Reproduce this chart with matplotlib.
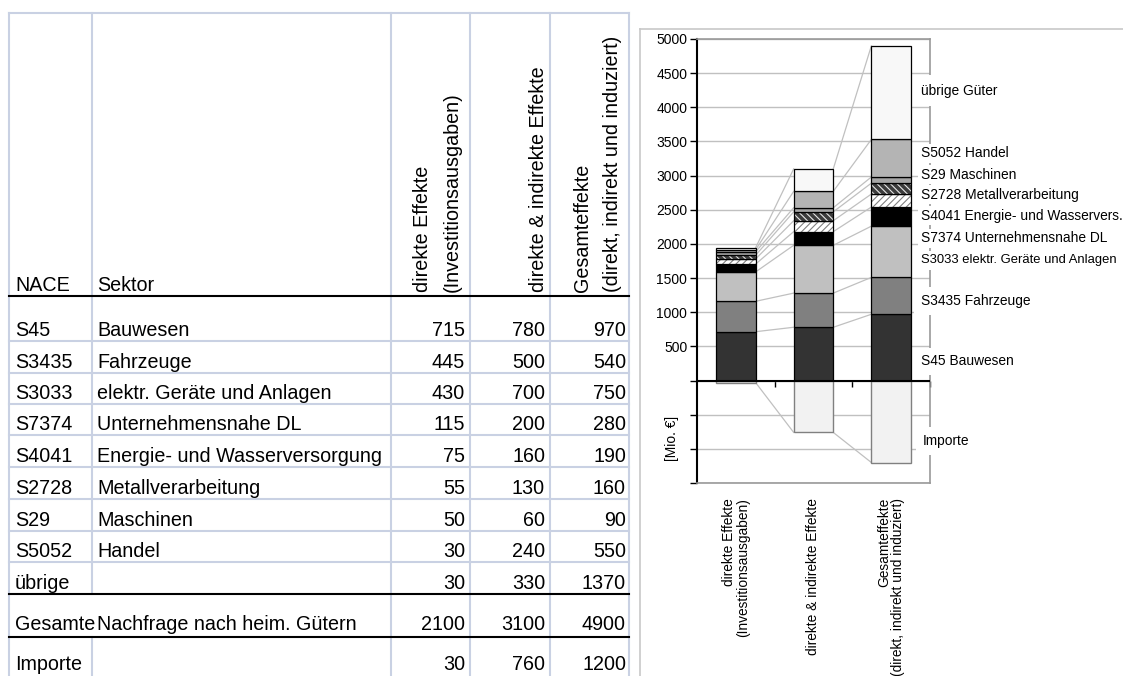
import numpy as np
import matplotlib
matplotlib.use("Agg")
import matplotlib.pyplot as plt
from matplotlib import font_manager
from matplotlib.ticker import FuncFormatter, MultipleLocator

# ---- data ----
nace = ["S45", "S3435", "S3033", "S7374", "S4041", "S2728", "S29", "S5052", "übrige"]
sektor = ["Bauwesen", "Fahrzeuge", "elektr. Geräte und Anlagen", "Unternehmensnahe DL",
          "Energie- und Wasserversorgung", "Metallverarbeitung", "Maschinen", "Handel", ""]
direkt = [715, 445, 430, 115, 75, 55, 50, 30, 30]
indirekt = [780, 500, 700, 200, 160, 130, 60, 240, 330]
gesamt = [970, 540, 750, 280, 190, 160, 90, 550, 1370]
summe = [2100, 3100, 4900]
importe = [30, 760, 1200]

kategorien = ["direkte Effekte\n(Investitionsausgaben)",
              "direkte & indirekte Effekte",
              "Gesamteffekte\n(direkt, indirekt und induziert)"]
bar_labels = ["S45 Bauwesen", "S3435 Fahrzeuge", "S3033 elektr. Geräte und Anlagen",
              "S7374 Unternehmensnahe DL", "S4041 Energie- und Wasservers.",
              "S2728 Metallverarbeitung", "S29 Maschinen", "S5052 Handel", "übrige Güter"]

# ---- styles / layout ----
colors = ["#333333", "#808080", "#c0c0c0", "#000000", "#ffffff", "#3c3c3c", "#a6a6a6", "#b4b4b4", "#f8f8f8"]
hatches = [None, None, None, None, "/////", "\\\\\\\\\\", None, None, None]
hatch_cols = [None, None, None, None, "#808080", "#e6e6e6", None, None, None]
label_y = [280, 1160, 1760, 2080, 2415, 2720, 3015, 3325, 4245]
label_pad = [0.5, 0.5, 0.25, 0.2, 0.2, 0.2, 0.2, 0.2, 0.6]
label_scale = [1, 1, 0.95, 1, 1, 1, 1, 1, 1]

names = {f.name for f in font_manager.fontManager.ttflist}
if "Liberation Sans Narrow" in names:
    FONT = ["Liberation Sans Narrow", "DejaVu Sans"]
    TS, LS, TK = 17.3, 11.8, 12.0
else:
    FONT = ["Liberation Sans", "DejaVu Sans"]
    TS, LS, TK = 14.2, 9.9, 10.0
plt.rcParams["font.family"] = FONT
plt.rcParams["hatch.linewidth"] = 0.8

W, H = 1123, 676
fig = plt.figure(figsize=(W / 100, H / 100), dpi=100)
bg = fig.add_axes([0, 0, 1, 1])
bg.set_xlim(0, W)
bg.set_ylim(H, 0)
bg.axis("off")

# ---- table ----
grid_c = "#c9d1e3"
cols = [9, 92, 391, 470, 550, 629]
row_bottom = [341, 373, 404, 435, 467, 499, 531, 562, 594]
for x in cols:
    if x == 92:
        bg.plot([x, x], [13, 594], color=grid_c, lw=1.5)
        bg.plot([x, x], [637, H], color=grid_c, lw=1.5)
    else:
        bg.plot([x, x], [13, H], color=grid_c, lw=1.5)
bg.plot([9, 629], [13, 13], color=grid_c, lw=1.5)
for y in row_bottom[:-1]:
    bg.plot([9, 629], [y, y], color=grid_c, lw=1.5)
for y in [296, 594, 637]:
    bg.plot([9, 629], [y, y], color="black", lw=1.5)

bg.text(15, 291, "NACE", fontsize=TS, va="baseline")
bg.text(97, 291, "Sektor", fontsize=TS, va="baseline")
hdr = [(428, "direkte Effekte"), (458, "(Investitionsausgaben)"),
       (544, "direkte & indirekte Effekte"),
       (588, "Gesamteffekte"), (618, "(direkt, indirekt und induziert)")]
for x, t in hdr:
    bg.text(x, 292, t, fontsize=TS, rotation=90, rotation_mode="anchor",
            ha="left", va="baseline")

num_x = [465, 545, 626]
for i in range(len(nace)):
    yb = row_bottom[i] - 5
    bg.text(15, yb, nace[i], fontsize=TS, va="baseline")
    bg.text(97, yb, sektor[i], fontsize=TS, va="baseline")
    for xr, vals in zip(num_x, [direkt, indirekt, gesamt]):
        bg.text(xr, yb, str(vals[i]), fontsize=TS, va="baseline", ha="right")

bg.text(15, 630, "Gesamte", fontsize=TS, va="baseline")
bg.text(97, 630, "Nachfrage nach heim. Gütern", fontsize=TS, va="baseline")
bg.text(15, 670, "Importe", fontsize=TS, va="baseline")
for xr, s, m in zip(num_x, summe, importe):
    bg.text(xr, 630, str(s), fontsize=TS, va="baseline", ha="right")
    bg.text(xr, 670, str(m), fontsize=TS, va="baseline", ha="right")

# chart frame
bg.plot([640, W], [28.5, 28.5], color="#c8c8c8", lw=1.2)
bg.plot([640, 640], [28.5, H], color="#c8c8c8", lw=1.2)

# ---- chart ----
ax = fig.add_axes([697 / W, 1 - 483 / H, (930 - 697) / W, (483 - 39) / H])
ax.set_facecolor("none")
x = np.arange(3)
bw = 0.51
data = np.array([direkt, indirekt, gesamt])  # bars x sectors
cum = np.cumsum(data, axis=1)
bottom = np.zeros(3)
for k in range(len(nace)):
    vals = data[:, k]
    if hatches[k]:
        ax.bar(x, vals, bw, bottom=bottom, color=colors[k], edgecolor=hatch_cols[k],
               hatch=hatches[k], lw=0, zorder=3)
        ax.bar(x, vals, bw, bottom=bottom, facecolor="none", edgecolor="black", lw=0.9, zorder=3)
    else:
        ax.bar(x, vals, bw, bottom=bottom, color=colors[k], edgecolor="black", lw=0.9, zorder=3)
    bottom += vals
ax.bar(x, -np.array(importe), bw, color="#f2f2f2", edgecolor="#808080", lw=1, zorder=3)

# series lines
for i in range(2):
    for k in range(len(nace)):
        ax.plot([x[i] + bw / 2, x[i + 1] - bw / 2], [cum[i, k], cum[i + 1, k]],
                color="#c0c0c0", lw=0.9, zorder=2)
    ax.plot([x[i] + bw / 2, x[i + 1] - bw / 2], [-importe[i], -importe[i + 1]],
            color="#c0c0c0", lw=0.9, zorder=2)

ax.set_xlim(-0.5, 2.5)
ax.set_ylim(-1500, 5000)
ax.yaxis.set_major_locator(MultipleLocator(500))
ax.yaxis.set_major_formatter(FuncFormatter(lambda v, p: f"{v:.0f}" if v > 0 else ""))
ax.grid(axis="y", color="#c0c0c0", lw=1, zorder=0)
ax.set_axisbelow(True)
ax.tick_params(axis="y", direction="out", length=5, width=1, pad=2, labelsize=TK)
ax.axhline(0, color="black", lw=1.5, zorder=4)
for s in ["top", "right", "bottom"]:
    ax.spines[s].set_color("#999999")
    ax.spines[s].set_linewidth(1.2)
ax.spines["left"].set_color("black")
ax.spines["left"].set_linewidth(1.5)

ax.set_xticks(x)
ax.set_xticklabels(kategorien, rotation=90, ha="center", va="top",
                   multialignment="right", linespacing=1.0, fontsize=LS)
ax.tick_params(axis="x", length=0, pad=10.8)

# tick marks on the zero line between categories
y0 = (0 - ax.get_ylim()[0]) / (ax.get_ylim()[1] - ax.get_ylim()[0])
sec = ax.secondary_xaxis(y0)
sec.set_xticks([0.5, 1.5, 2.5])
sec.set_xticklabels([])
sec.tick_params(direction="out", length=4, width=1, color="black")
sec.spines["bottom"].set_visible(False)

tr = ax.get_yaxis_transform()
for k, t in enumerate(bar_labels):
    ax.text(0.962, label_y[k], t, transform=tr, fontsize=LS * label_scale[k],
            va="center", ha="left", clip_on=False, zorder=6,
            bbox=dict(boxstyle=f"square,pad={label_pad[k]}", facecolor="white", edgecolor="none"))
ax.text(0.97, -880, "Importe", transform=tr, fontsize=LS, va="center", ha="left",
        clip_on=False, zorder=6,
        bbox=dict(boxstyle="square,pad=0.5", facecolor="white", edgecolor="none"))
ax.text(-0.107, 0.101, "[Mio. €]", transform=ax.transAxes, rotation=90, fontsize=LS,
        ha="center", va="center")

fig.savefig("out.png", dpi=100)
